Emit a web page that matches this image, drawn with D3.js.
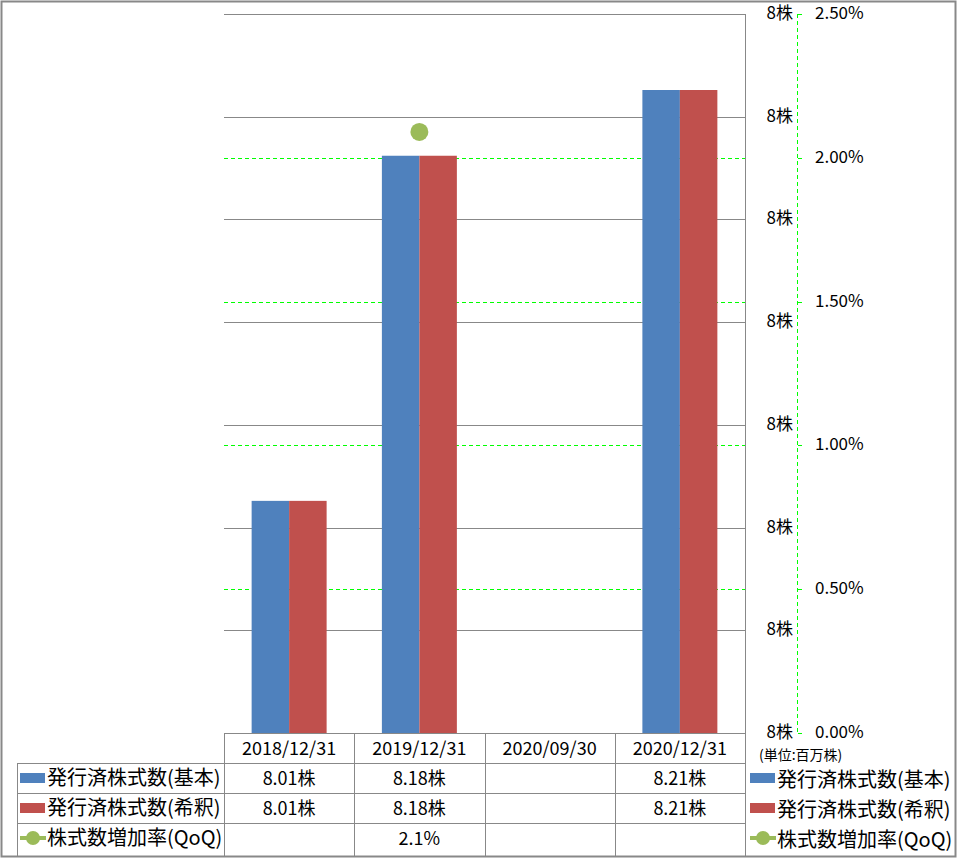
<!DOCTYPE html>
<html>
<head>
  <meta charset="utf-8">
  <title>発行済株式数</title>
  <script src="https://cdn.jsdelivr.net/npm/d3@7.0.0/dist/d3.min.js"></script>
  <style>
    body { margin: 0; background: #fff; }
    text { font-family: "Noto Sans CJK JP", "Noto Sans", sans-serif; fill: #000; }
  </style>
</head>
<body>
  <div id="chart"></div>

  <script>
    // data
    var categories = ["2018/12/31", "2019/12/31", "2020/09/30", "2020/12/31"];
    var sharesBasic = [8.013, 8.181, null, 8.213];
    var sharesDiluted = [8.013, 8.181, null, 8.213];
    var growthQoQ = [null, 2.09, null, null]; // percent
    var seriesNames = ["発行済株式数(基本)", "発行済株式数(希釈)", "株式数増加率(QoQ)"];
    var seriesColors = ["#4f81bd", "#c0504d", "#9bbb59"];
    var unitLabel = "(単位:百万株)";

    var W = 957, H = 858;
    var plot = { left: 224, right: 745, top: 14, bottom: 733 };
    var rowH = 30;
    var green = "#00ff00";

    var svg = d3.select("#chart").append("svg")
      .attr("width", W)
      .attr("height", H);

    // outer frame
    svg.append("rect")
      .attr("x", 1.5).attr("y", 1.5)
      .attr("width", W - 3).attr("height", H - 3)
      .attr("fill", "none").attr("stroke", "#888").attr("stroke-width", 2);

    // scales
    var x = d3.scaleBand().domain(categories).range([plot.left, plot.right]);
    var x1 = d3.scaleBand().domain([0, 1]).range([0, x.bandwidth()]).paddingOuter(0.737);
    var y = d3.scaleLinear().domain([7.9, 8.25]).range([plot.bottom, plot.top]);
    var y2 = d3.scaleLinear().domain([0, 0.025]).range([plot.bottom, plot.top]);

    var yTicks = d3.range(0, 8).map(function(i) { return 7.9 + i * 0.05; });
    var y2Ticks = d3.range(0, 6).map(function(i) { return i * 0.005; });

    // gray gridlines (left axis)
    svg.append("g").selectAll("line")
      .data(yTicks.filter(function(d, i) { return i > 0; }))
      .enter().append("line")
      .attr("x1", plot.left).attr("x2", plot.right)
      .attr("y1", function(d) { return Math.round(y(d)) + 0.5; })
      .attr("y2", function(d) { return Math.round(y(d)) + 0.5; })
      .attr("stroke", "#888").attr("stroke-width", 1);

    // green dashed gridlines (right axis)
    svg.append("g").selectAll("line")
      .data(y2Ticks.filter(function(d, i) { return i > 0 && i < 5; }))
      .enter().append("line")
      .attr("x1", plot.left).attr("x2", plot.right)
      .attr("y1", function(d) { return Math.round(y2(d)) + 0.5; })
      .attr("y2", function(d) { return Math.round(y2(d)) + 0.5; })
      .attr("stroke", green).attr("stroke-width", 1)
      .attr("shape-rendering", "crispEdges")
      .attr("stroke-dasharray", "4,3");

    // bars
    var barData = [];
    categories.forEach(function(c, i) {
      [sharesBasic[i], sharesDiluted[i]].forEach(function(v, s) {
        if (v != null) barData.push({ cat: c, s: s, v: v });
      });
    });
    svg.append("g").selectAll("rect")
      .data(barData)
      .enter().append("rect")
      .attr("x", function(d) { return x(d.cat) + x1(d.s); })
      .attr("y", function(d) { return y(d.v); })
      .attr("width", x1.bandwidth())
      .attr("height", function(d) { return plot.bottom - y(d.v); })
      .attr("fill", function(d) { return seriesColors[d.s]; });

    // growth markers
    svg.append("g").selectAll("circle")
      .data(categories.map(function(c, i) { return { cat: c, v: growthQoQ[i] }; })
        .filter(function(d) { return d.v != null; }))
      .enter().append("circle")
      .attr("cx", function(d) { return x(d.cat) + x.bandwidth() / 2; })
      .attr("cy", function(d) { return y2(d.v / 100); })
      .attr("r", 9)
      .attr("fill", seriesColors[2]);

    // plot right border
    svg.append("line")
      .attr("x1", plot.right + 0.5).attr("x2", plot.right + 0.5)
      .attr("y1", plot.top).attr("y2", H - 2)
      .attr("stroke", "#888");

    // left value axis labels (placed right of plot)
    svg.append("g").selectAll("text")
      .data(yTicks)
      .enter().append("text")
      .attr("x", 793)
      .attr("y", function(d) { return y(d) + 5; })
      .attr("text-anchor", "end")
      .attr("font-size", 17)
      .text(function(d) { return d3.format(".0f")(d) + "株"; });

    // right percent axis
    var axisX = 797.5;
    svg.append("line")
      .attr("x1", axisX).attr("x2", axisX)
      .attr("y1", plot.top).attr("y2", plot.bottom)
      .attr("stroke", green).attr("shape-rendering", "crispEdges")
      .attr("stroke-dasharray", "4,3");
    svg.append("g").selectAll("line")
      .data(y2Ticks)
      .enter().append("line")
      .attr("x1", axisX).attr("x2", axisX + 4)
      .attr("y1", function(d) { return Math.round(y2(d)) + 0.5; })
      .attr("y2", function(d) { return Math.round(y2(d)) + 0.5; })
      .attr("shape-rendering", "crispEdges")
      .attr("stroke", green);
    svg.append("g").selectAll("text")
      .data(y2Ticks)
      .enter().append("text")
      .attr("x", 815)
      .attr("y", function(d) { return y2(d) + 5; })
      .attr("font-size", 17)
      .text(function(d) { return d3.format(".2%")(d); });

    // data table
    var table = svg.append("g").attr("stroke", "#888").attr("stroke-width", 1);
    var tLeft = 17, tTop = plot.bottom;
    table.append("line").attr("x1", plot.left).attr("x2", plot.right)
      .attr("y1", tTop + 0.5).attr("y2", tTop + 0.5);
    [1, 2, 3].forEach(function(r) {
      table.append("line").attr("x1", tLeft).attr("x2", plot.right)
        .attr("y1", tTop + r * rowH + 0.5).attr("y2", tTop + r * rowH + 0.5);
    });
    table.append("line").attr("x1", tLeft + 0.5).attr("x2", tLeft + 0.5)
      .attr("y1", tTop + rowH).attr("y2", H - 2);
    categories.forEach(function(c) {
      var xx = Math.round(x(c)) + 0.5;
      table.append("line").attr("x1", xx).attr("x2", xx)
        .attr("y1", tTop).attr("y2", H - 2);
    });

    // header row
    svg.append("g").selectAll("text")
      .data(categories)
      .enter().append("text")
      .attr("x", function(d) { return x(d) + x.bandwidth() / 2; })
      .attr("y", tTop + 22)
      .attr("text-anchor", "middle")
      .attr("font-size", 18)
      .text(function(d) { return d; });

    var rows = [
      sharesBasic.map(function(v) { return v == null ? "" : v.toFixed(2) + "株"; }),
      sharesDiluted.map(function(v) { return v == null ? "" : v.toFixed(2) + "株"; }),
      growthQoQ.map(function(v) { return v == null ? "" : v.toFixed(1) + "%"; })
    ];
    rows.forEach(function(row, r) {
      svg.append("g").selectAll("text")
        .data(row)
        .enter().append("text")
        .attr("x", function(d, i) { return x(categories[i]) + x.bandwidth() / 2; })
        .attr("y", tTop + (r + 1) * rowH + 22)
        .attr("text-anchor", "middle")
        .attr("font-size", 18)
        .text(function(d) { return d; });
    });

    // legend keys (table rows and right legend)
    function legendKey(g, s, kx, ky) {
      if (s < 2) {
        g.append("rect").attr("x", kx).attr("y", ky - 5)
          .attr("width", 25).attr("height", 10)
          .attr("fill", seriesColors[s]);
      } else {
        g.append("line").attr("x1", kx).attr("x2", kx + 26)
          .attr("y1", ky).attr("y2", ky)
          .attr("stroke", seriesColors[s]).attr("stroke-width", 4);
        g.append("circle").attr("cx", kx + 13).attr("cy", ky).attr("r", 7)
          .attr("fill", seriesColors[s]);
      }
    }
    seriesNames.forEach(function(name, s) {
      var cy = tTop + (s + 1) * rowH + 15;
      var g = svg.append("g");
      legendKey(g, s, 20, cy);
      g.append("text").attr("x", 47).attr("y", cy + 7)
        .attr("font-size", 20).text(name);

      var g2 = svg.append("g");
      legendKey(g2, s, 750, cy);
      g2.append("text").attr("x", 777).attr("y", cy + 9)
        .attr("font-size", 20).text(name);
    });

    svg.append("text")
      .attr("x", 759).attr("y", tTop + 26.5)
      .attr("font-size", 14)
      .text(unitLabel);
  </script>
</body>
</html>
